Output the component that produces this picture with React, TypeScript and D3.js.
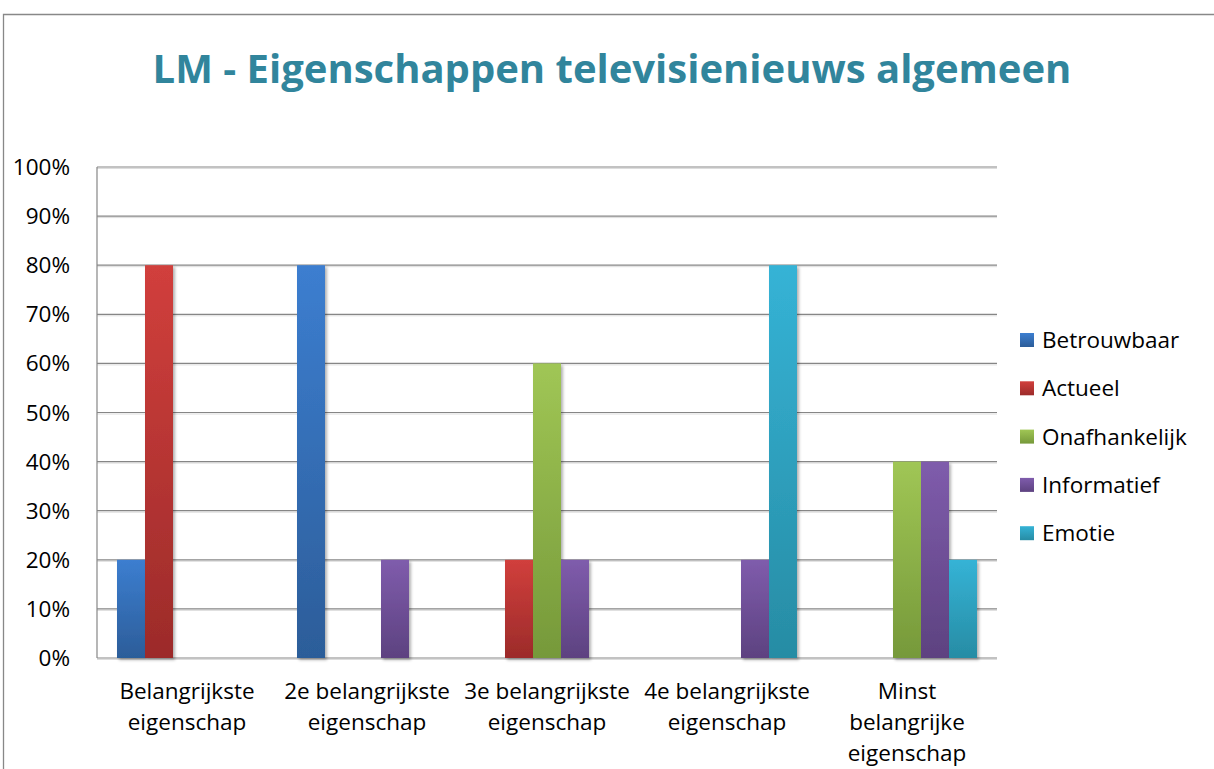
import React from "react";
import * as d3 from "d3";

const title = "LM - Eigenschappen televisienieuws algemeen";
const categories: string[][] = [
  ["Belangrijkste", "eigenschap"],
  ["2e belangrijkste", "eigenschap"],
  ["3e belangrijkste", "eigenschap"],
  ["4e belangrijkste", "eigenschap"],
  ["Minst", "belangrijke", "eigenschap"],
];
const seriesNames = ["Betrouwbaar", "Actueel", "Onafhankelijk", "Informatief", "Emotie"];
const betrouwbaar = [0.2, 0.8, 0, 0, 0];
const actueel = [0.8, 0, 0.2, 0, 0];
const onafhankelijk = [0, 0, 0.6, 0, 0.4];
const informatief = [0, 0.2, 0.2, 0.2, 0.4];
const emotie = [0, 0, 0, 0.8, 0.2];
const seriesValues = [betrouwbaar, actueel, onafhankelijk, informatief, emotie];
const seriesTop = ["#3C7ED0", "#D13F3C", "#A0C655", "#7F5CAC", "#35B3D6"];
const seriesBottom = ["#2C5D99", "#9C2B2A", "#76993A", "#5D4280", "#278CA4"];
const yTicks = [0, 0.1, 0.2, 0.3, 0.4, 0.5, 0.6, 0.7, 0.8, 0.9, 1.0];

const W = 1214;
const H = 769;
const plotLeft = 97;
const plotRight = 997;
const plotTop = 167;
const plotBottom = 658;
const FONT = "'Open Sans', sans-serif";

export default function App() {
  const y = d3.scaleLinear().domain([0, 1]).range([plotBottom, plotTop]);
  const catKeys = categories.map((_, i) => String(i));
  const x0 = d3.scaleBand().domain(catKeys).range([plotLeft, plotRight]).paddingInner(0).paddingOuter(0);
  const x1 = d3
    .scaleBand()
    .domain(seriesNames)
    .range([20, x0.bandwidth() - 20])
    .padding(0);
  const fmt = d3.format(".0%");

  return (
    <svg
      width={W}
      height={H}
      style={{ position: "absolute", left: 0, top: 0, background: "#fff" }}
      fontFamily={FONT}
    >
      <defs>
        {seriesNames.map((s, i) => (
          <linearGradient key={s} id={`g${i}`} x1="0" y1="0" x2="0" y2="1">
            <stop offset="0" stopColor={seriesTop[i]} />
            <stop offset="1" stopColor={seriesBottom[i]} />
          </linearGradient>
        ))}
        <filter id="shadow" x="-20%" y="-5%" width="150%" height="120%">
          <feDropShadow dx="2" dy="2" stdDeviation="1.6" floodColor="#000" floodOpacity="0.3" />
        </filter>
      </defs>
      <rect x={0} y={0} width={W} height={H} fill="#fff" />
      {/* outer chart frame */}
      <path d={`M3.5,${H + 2} V14.5 H${W + 2}`} fill="none" stroke="#888" strokeWidth={1.3} />

      <text
        x={612}
        y={83}
        textAnchor="middle"
        fontSize={40}
        fontWeight={700}
        fill="#31859C"
      >
        {title}
      </text>

      {/* gridlines */}
      {yTicks.map((t) => (
        <g key={t}>
          <line x1={plotLeft} x2={plotRight} y1={y(t) + 1.5} y2={y(t) + 1.5} stroke="#ddd" strokeWidth={1} />
          <line x1={plotLeft} x2={plotRight} y1={y(t)} y2={y(t)} stroke="#868686" strokeWidth={1.2} />
          <text x={70} y={y(t) + 8} textAnchor="end" fontSize={22.5} fill="#000">
            {fmt(t)}
          </text>
        </g>
      ))}
      <line x1={plotLeft} x2={plotLeft} y1={plotTop} y2={plotBottom} stroke="#868686" strokeWidth={1.2} />

      {/* bars */}
      {categories.map((_, ci) => (
        <g key={ci} transform={`translate(${x0(String(ci))},0)`}>
          {seriesNames.map((s, si) => {
            const v = seriesValues[si][ci];
            if (!v) return null;
            return (
              <rect
                key={s}
                x={x1(s)}
                y={y(v)}
                width={x1.bandwidth()}
                height={y(0) - y(v)}
                fill={`url(#g${si})`}
                filter="url(#shadow)"
              />
            );
          })}
        </g>
      ))}

      {/* category labels */}
      {categories.map((lines, ci) => (
        <text
          key={ci}
          x={(x0(String(ci)) as number) + x0.bandwidth() / 2}
          textAnchor="middle"
          fontSize={22.5}
          fill="#000"
        >
          {lines.map((l, li) => (
            <tspan key={li} x={(x0(String(ci)) as number) + x0.bandwidth() / 2} y={699 + li * 31}>
              {l}
            </tspan>
          ))}
        </text>
      ))}

      {/* legend */}
      {seriesNames.map((s, i) => {
        const cy = 340 + i * 48.3;
        return (
          <g key={s}>
            <rect x={1020} y={cy - 7} width={14} height={14} fill={`url(#g${i})`} />
            <text x={1042} y={cy + 8} fontSize={22.5} fill="#000">
              {s}
            </text>
          </g>
        );
      })}
    </svg>
  );
}
